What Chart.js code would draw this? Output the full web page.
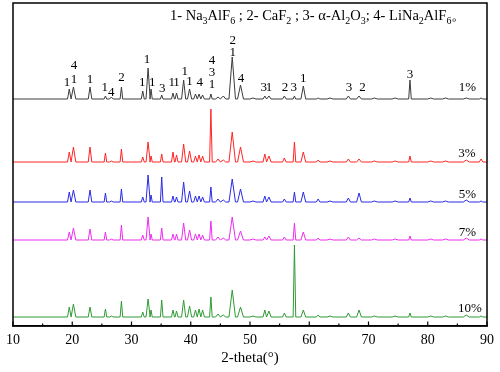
<!DOCTYPE html>
<html>
<head>
<meta charset="utf-8">
<script src="https://cdn.jsdelivr.net/npm/chart.js@4.4.1/dist/chart.umd.min.js"></script>
<style>
html,body{margin:0;padding:0;background:#fff;}
#wrap{width:500px;height:372px;}
</style>
</head>
<body>
<div id="wrap"><canvas id="c" width="500" height="372"></canvas></div>
<script>
// ---- data ----
const sampleLabels = ["1%", "3%", "5%", "7%", "10%"];
const peakPositions = [19.5,20.2,23.0,25.6,26.6,28.3,31.9,32.8,33.3,35.1,37.0,37.6,38.8,39.8,40.8,41.4,42.0,43.4,44.6,45.5,47.0,48.4,50.5,52.5,53.2,55.8,57.5,59.0,61.5,63.5,66.6,68.4,71.0,74.5,77.0,80.5,83.0,86.5,89.0];
const peakHalfWidths = [0.3,0.4,0.3,0.22,0.3,0.22,0.25,0.35,0.2,0.22,0.25,0.25,0.35,0.35,0.3,0.3,0.3,0.22,0.4,0.4,0.55,0.5,0.5,0.3,0.35,0.3,0.22,0.4,0.3,0.5,0.35,0.4,0.5,0.5,0.22,0.5,0.5,0.5,0.3];
const int1  = [10,12,12,3,2,12,8,31,10,4,6,6,19,10,5,5,4,5,2,3,42,14,1,3,3,3,3,13,1,1,3,3,1,1,19,1,1,1,1];
const int3  = [10,15,15,9,1,13,5,20,6,8,10,7,18,11,6,7,6,53,3,2,30,15,1,8,6,4,20,10,2,1,3,3,1,1,6,1,1,2,3];
const int5  = [10,12,12,9,1,13,5,27,7,25,6,5,20,11,6,6,5,15,3,2,23,13,1,6,5,3,10,10,3,1,4,9,1,1,4,1,1,2,1];
const int7  = [8,12,11,8,1,15,5,23,6,12,6,6,17,10,6,6,5,19,3,2,23,9,1,3,4,3,17,8,2,1,3,2,1,1,4,1,1,2,1];
const int10 = [10,13,10,8,1,16,5,18,7,17,7,6,17,11,7,8,7,20,3,2,27,10,1,7,6,4,72,7,2,1,4,7,1,1,4,1,1,2,1];
const seriesIntensities = [int1, int3, int5, int7, int10];
const seriesOffsets = [227, 164, 124, 86, 9];
const seriesColors = ["#3c3c3c", "#ff2424", "#2a2ae6", "#ee2cee", "#2f9a34"];
const xTickValues = [10,20,30,40,50,60,70,80,90];

// peak annotations on the 1% pattern
const peakLabelX = [19.1,20.3,20.3,23.0,25.5,26.6,28.3,31.8,32.6,33.5,35.2,36.8,37.6,39.0,39.8,41.5,43.6,43.6,43.6,47.1,47.1,48.5,52.3,53.2,55.9,57.4,59.0,66.7,69.0,77.0];
const peakLabelY = [243,260,246,246,238,233,248,243,266,243,237,243,243,254,244,243,265,253,241,285,273,247,238,238,238,238,247,238,238,251];
const peakLabelText = ["1","4","1","1","1","4","2","1","1","1","3","1","1","1","1","4","4","3","1","2","1","4","3","1","2","3","1","3","2","3"];
const pctLabelX = [86.7,86.6,86.7,86.7,87.1];
const pctLabelY = [238,172,131,93,17];

// ---- build datasets ----
function buildSeries(h, off) {
  const pts = [{x:10, y:off}];
  for (let i = 0; i < peakPositions.length; i++) {
    const p = peakPositions[i], w = peakHalfWidths[i];
    pts.push({x:p - w, y:off}, {x:p, y:off + h[i]}, {x:p + w, y:off});
  }
  pts.push({x:90, y:off});
  return pts;
}
const datasets = seriesIntensities.map((h, i) => ({
  label: sampleLabels[i],
  data: buildSeries(h, seriesOffsets[i]),
  borderColor: seriesColors[i],
  borderWidth: 1,
  pointRadius: 0,
  tension: 0,
  fill: false
}));

const SERIF = "'Liberation Serif','Times New Roman',serif";

const decor = {
  id: 'decor',
  afterDraw(chart) {
    const {ctx, chartArea: a, scales: {x, y}} = chart;
    ctx.save();
    ctx.strokeStyle = '#000';
    ctx.lineWidth = 1.5;
    ctx.strokeRect(a.left, a.top, a.right - a.left, a.bottom - a.top);
    ctx.lineWidth = 1.2;
    for (let v = x.min; v <= x.max; v += 5) {
      const px = x.getPixelForValue(v);
      const len = (v % 10 === 0) ? 4.5 : 2.5;
      ctx.beginPath();
      ctx.moveTo(px, a.bottom);
      ctx.lineTo(px, a.bottom - len);
      ctx.stroke();
    }
    ctx.fillStyle = '#000';
    ctx.textAlign = 'center';
    ctx.textBaseline = 'middle';
    ctx.font = '13px ' + SERIF;
    for (let i = 0; i < peakLabelText.length; i++) {
      ctx.fillText(peakLabelText[i], x.getPixelForValue(peakLabelX[i]), y.getPixelForValue(peakLabelY[i]));
    }
    for (let i = 0; i < sampleLabels.length; i++) {
      ctx.fillText(sampleLabels[i], x.getPixelForValue(pctLabelX[i]), y.getPixelForValue(pctLabelY[i]));
    }
    const parts = [["1- Na",0],["3",1],["AlF",0],["6",1],[" ; 2- CaF",0],["2",1],[" ; 3- \u03b1-Al",0],["2",1],["O",0],["3",1],["; 4- LiNa",0],["2",1],["AlF",0],["6",1],["\u3002",0]];
    ctx.textAlign = 'left';
    ctx.textBaseline = 'alphabetic';
    let cx = 170;
    const base = 20;
    for (const [t, sub] of parts) {
      ctx.font = (sub ? '10px ' : '14.5px ') + SERIF;
      ctx.fillText(t, cx, sub ? base + 3.5 : base);
      cx += ctx.measureText(t).width;
    }
    ctx.restore();
  }
};

new Chart(document.getElementById('c'), {
  type: 'line',
  data: { datasets },
  options: {
    responsive: false,
    animation: false,
    events: [],
    layout: { padding: { left: 13, right: 11, top: 3, bottom: 5 } },
    plugins: { legend: { display: false }, tooltip: { enabled: false } },
    scales: {
      x: {
        type: 'linear',
        min: 10, max: 90,
        afterBuildTicks: (s) => { s.ticks = xTickValues.map(v => ({value: v})); },
        afterFit: (s) => { s.height = 41; },
        grid: { display: false, drawTicks: false, tickLength: 0 },
        border: { display: true, color: '#000', width: 1.5 },
        ticks: { color: '#000', padding: 6, maxRotation: 0, autoSkip: false, font: { family: SERIF, size: 14 } },
        title: { display: true, text: '2-theta(\u00b0)', color: '#000', padding: { top: 0, bottom: 0 }, font: { family: SERIF, size: 15 } }
      },
      y: {
        display: false,
        min: 0, max: 323
      }
    }
  },
  plugins: [decor]
});
</script>
</body>
</html>
